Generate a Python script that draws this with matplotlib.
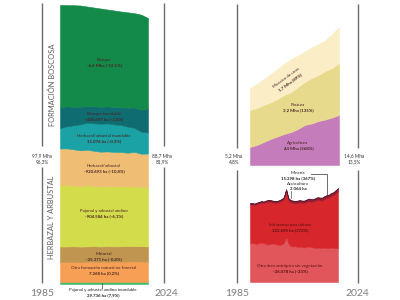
import matplotlib
matplotlib.use("Agg")
import matplotlib.pyplot as plt

# ---------------- data ----------------
# Natural cover (left panel), sampled every three years
years_nat = [1985, 1988, 1991, 1994, 1997, 2000, 2003, 2006, 2009, 2012, 2015, 2018, 2021, 2024]
pajonal_inundable = [2.0, 2.0, 2.0, 2.0, 2.1, 2.1, 2.1, 2.1, 2.1, 2.2, 2.2, 2.2, 2.2, 2.2]
otra_formacion = [20.0, 20.2, 20.1, 20.0, 20.3, 20.2, 20.1, 20.3, 20.4, 20.2, 20.3, 20.4, 20.3, 20.1]
matorral = [15.5, 15.3, 15.6, 15.4, 15.2, 15.5, 15.3, 15.4, 15.1, 15.3, 15.4, 15.2, 15.3, 15.2]
pajonal_andino = [61.0, 61.5, 60.8, 60.5, 61.2, 60.4, 60.0, 60.3, 59.9, 60.1, 59.6, 59.8, 59.5, 59.5]
herbazal = [37.0, 36.6, 36.2, 35.8, 35.5, 35.0, 34.8, 34.5, 34.6, 34.2, 33.8, 34.5, 33.0, 33.5]
herbazal_inundable = [20.5, 22.0, 24.0, 26.0, 27.0, 27.5, 28.0, 28.0, 27.5, 27.0, 26.0, 24.0, 22.0, 21.0]
bosque_inundable = [21.0, 20.0, 18.5, 17.5, 17.0, 17.0, 17.0, 17.0, 17.5, 18.0, 19.0, 20.5, 22.0, 24.0]
bosque = [102.0, 101.4, 101.6, 101.3, 99.2, 98.8, 98.2, 96.9, 96.4, 95.5, 95.4, 94.2, 95.0, 90.5]

# Agricultural uses (upper right panel)
agricultura = [18, 20, 23, 26, 28.5, 31, 33, 36, 40, 41.5, 44, 45.5, 47.5, 50]
pastura = [37, 37, 37, 36.5, 37.5, 39, 40, 42, 43, 45.5, 46, 48.5, 49.5, 52]
mosaico = [22, 24, 26, 28.5, 30, 31.5, 33, 31.5, 30.5, 30.5, 31, 31, 34, 36]

# Non-vegetated anthropic areas (lower right panel), yearly
years_ant = list(range(1985, 2025))
otra_antropica = [39, 39, 38.5, 38, 39, 39.5, 39, 38, 37.5, 38, 38.5, 38, 37.5, 37, 37.5,
                  39, 45, 38.5, 36, 35.5, 36, 35, 35.5, 35, 34.5, 35, 35.5, 35, 34.5, 34,
                  34.5, 34, 34, 34.5, 34, 34, 34.5, 34, 34, 34]
infraestructura = [38.4, 38.4, 38.4, 39.8, 39.3, 39.8, 39.8, 41.7, 42.7, 42.2, 41.1, 41.1, 41.6,
                   43.0, 43.5, 43.8, 45.8, 43.2, 43.7, 43.7, 42.6, 44.1, 44.0, 44.0, 44.5, 44.8,
                   45.3, 45.2, 45.7, 47.2, 47.6, 47.6, 47.5, 48.5, 50.0, 50.4, 51.4, 52.8, 54.8, 56.7]
mineria = [1.2, 1.2, 1.2, 1.3, 1.3, 1.3, 1.3, 1.4, 1.4, 1.4, 1.5, 1.5, 1.5, 1.6, 1.6, 1.7, 1.7,
           1.8, 1.8, 1.8, 1.9, 1.9, 2.0, 2.0, 2.0, 2.1, 2.1, 2.2, 2.2, 2.2, 2.3, 2.3, 2.4, 2.4,
           2.4, 2.5, 2.5, 2.6, 2.6, 2.7]
acuicultura = [0.4] * 15 + [0.5] * 10 + [0.6] * 15

# ---------------- figure ----------------
W, H = 400, 300
fig = plt.figure(figsize=(4, 3), dpi=100)
fig.patch.set_facecolor("white")
FONT = ["Lato", "DejaVu Sans"]


def px_axes(x0, y0, x1, y1):
    ax = fig.add_axes([x0 / W, 1 - y1 / H, (x1 - x0) / W, (y1 - y0) / H])
    ax.set_axis_off()
    return ax


def stack(ax, x, layers, colors):
    polys = ax.stackplot(x, *layers, colors=colors)
    for p, c in zip(polys, colors):
        p.set_edgecolor(c)
        p.set_linewidth(0.4)


# left panel: natural cover
axl = px_axes(60, 5, 148, 284)
stack(axl, years_nat,
      [pajonal_inundable, otra_formacion, matorral, pajonal_andino,
       herbazal, herbazal_inundable, bosque_inundable, bosque],
      ["#45b86a", "#f7a055", "#bf9550", "#d3dc4a", "#efbd74", "#1aa2a5", "#0f6c71", "#13894a"])
axl.set_xlim(1985, 2024)
axl.set_ylim(0, 279)

# upper right: agriculture, pasture, mosaic
axu = px_axes(250, 5, 339, 165)
stack(axu, years_nat, [agricultura, pastura, mosaico], ["#c57cbb", "#e7da8d", "#fbeec7"])
axu.set_xlim(1985, 2024)
axu.set_ylim(0, 160)

# lower right: non-vegetated areas
axb = px_axes(250, 170, 338, 282)
stack(axb, years_ant, [otra_antropica, infraestructura, mineria, acuicultura],
      ["#e0565b", "#d7262c", "#9a1c30", "#5e1a2e"])
axb.set_xlim(1985, 2024)
axb.set_ylim(0, 112)

# overlay for guides and annotations, in pixel coordinates
ov = fig.add_axes([0, 0, 1, 1], zorder=10)
ov.set_xlim(0, W)
ov.set_ylim(H, 0)
ov.set_axis_off()
ov.patch.set_alpha(0)

guide = dict(color="#6b6b6b", lw=1.0, solid_capstyle="butt")
for gx in (42, 164):
    ov.plot([gx, gx], [3, 146], **guide)
    ov.plot([gx, gx], [167, 283], **guide)
for gx in (237, 358):
    ov.plot([gx, gx], [4, 148], **guide)
    ov.plot([gx, gx], [170, 283], **guide)

year_style = dict(fontsize=7.5, color="#7d7d7d", ha="center", va="center",
                  family=FONT, fontweight="normal")
ov.text(42, 293, "1985", **year_style)
ov.text(166, 293, "2024", **year_style)
ov.text(237, 293, "1985", **year_style)
ov.text(357, 293, "2024", **year_style)

side = dict(fontsize=3.4, color="#333333", ha="center", va="center", family=FONT,
            linespacing=1.3)
ov.text(42, 159, "97,9 Mha\n96,3%", **side)
ov.text(162, 159, "88,7 Mha\n81,9%", **side)
ov.text(234, 159, "5,2 Mha\n4,8%", **side)
ov.text(354, 159, "14,6 Mha\n13,5%", **side)

group = dict(fontsize=5.4, color="#5e5e5e", ha="center", va="center", rotation=90,
             family=FONT, fontweight="normal")
ov.text(52, 85, "FORMACIÓN BOSCOSA", **group)
ov.text(52, 217, "HERBAZAL Y ARBUSTAL", **group)

LBL = "#4a2424"


def label(x, y, name, value, color=LBL, rot=0):
    ov.text(x, y, name, fontsize=3.2, color=color, ha="center", va="center",
            family=FONT, rotation=rot)
    ov.text(x, y + 5, value, fontsize=3.2, color=color, ha="center", va="center",
            family=FONT, fontweight="bold", rotation=rot)


label(104, 60, "Bosque", "-6,6 Mha (-13,1%)")
label(104, 114, "Bosque inundable", "-400.697 ha (-3,8%)")
label(104, 136, "Herbazal/arbustal inundable", "11.076 ha (-0,3%)")
label(104, 166, "Herbazal/arbustal", "-920.693 ha (-10,8%)")
label(104, 211, "Pajonal y arbustal andino", "-904.584 ha (-6,1%)")
label(104, 254, "Matorral", "-25.371 ha (-0,8%)")
label(104, 268, "Otra formación natural no forestal", "7.268 ha (0,2%)")
label(103, 290, "Pajonal y arbustal andino inundable", "29.736 ha (7,9%)", color="#222222")
ov.plot([102, 102], [283, 288], color="#444444", lw=0.5)

# rotated mosaic label
ov.text(286, 78, "Mosaico de usos", fontsize=3.2, color=LBL, ha="center", va="center",
        family=FONT, rotation=36)
ov.text(290, 82, "1,7 Mha (89%)", fontsize=3.2, color=LBL, ha="center", va="center",
        family=FONT, fontweight="bold", rotation=36)
label(298, 105, "Pastura", "3,2 Mha (135%)")
label(298, 143, "Agricultura", "4,4 Mha (568%)")

label(298, 173, "Minería", "15.298 ha (367%)", color="#222222")
label(298, 184, "Acuicultura", "2.064 ha", color="#222222")
ov.plot([311, 327, 327], [174, 174, 194], color="#555555", lw=0.6)
ov.plot([291, 291], [191, 198], color="#555555", lw=0.5)
label(290, 225, "Infraestructura urbana", "123.695 ha (372%)", color="#5a1010")
label(290, 266, "Otra área antrópica sin vegetación", "-26.078 ha (-23%)", color="#5a1010")

fig.savefig("out.png", dpi=100, facecolor="white")
